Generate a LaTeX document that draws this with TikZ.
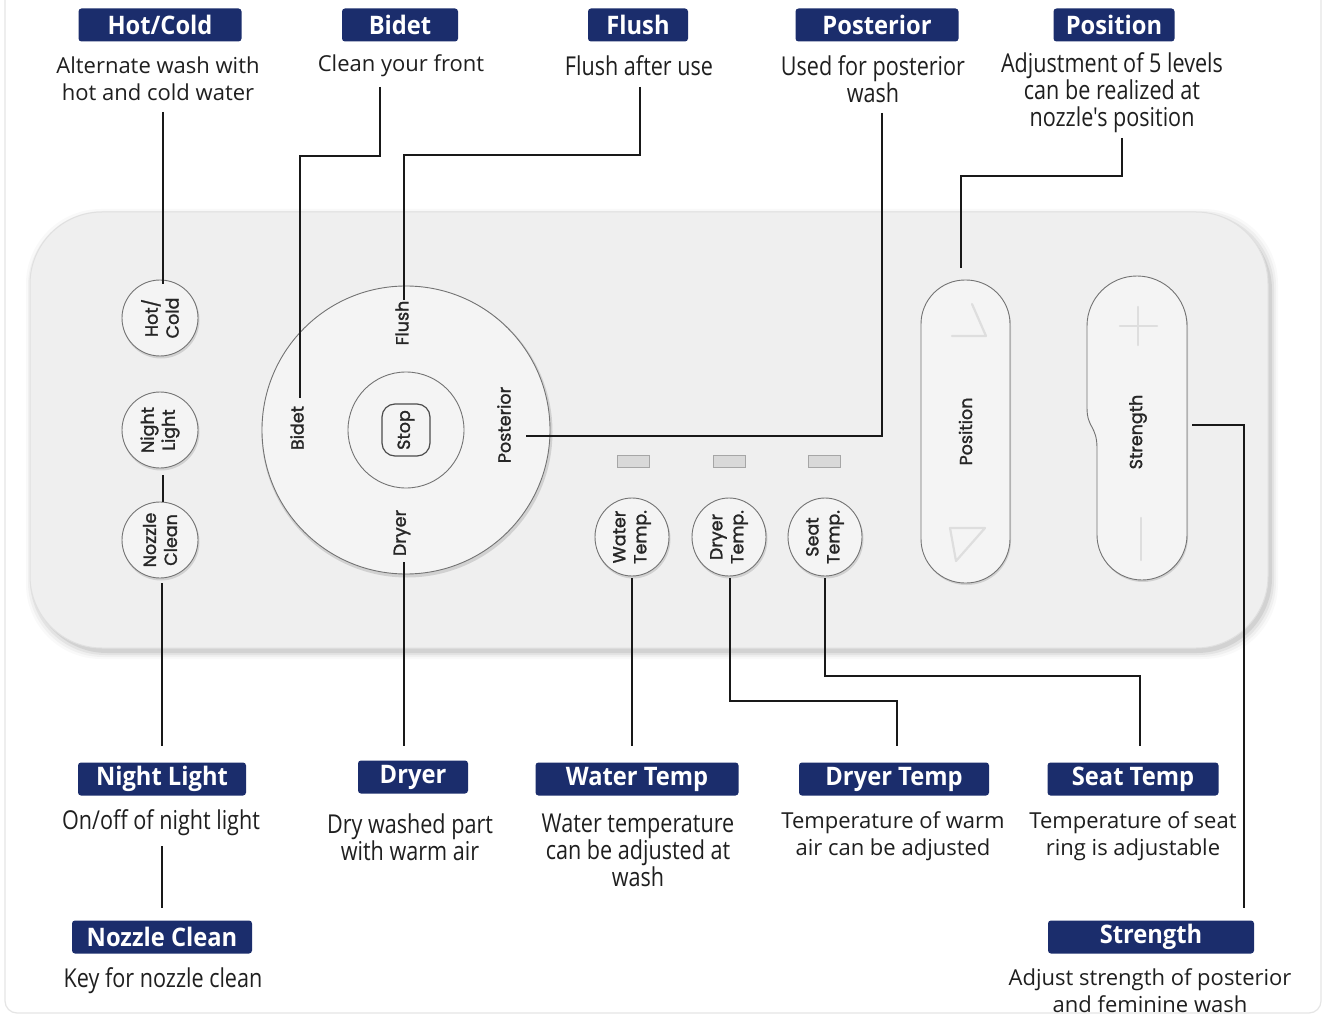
\documentclass[tikz,border=0pt]{standalone}
\usepackage{fontspec}
\setmainfont{Open Sans}
\newfontfamily\condfont[FakeStretch=0.83]{Open Sans}
\newfontfamily\lblfont[FakeStretch=0.93]{Open Sans}
\newfontfamily\remfont[FakeBold=1.5]{Poppins}
\usetikzlibrary{calc,shapes.geometric}
\definecolor{navy}{RGB}{27,45,108}
\definecolor{bodyfill}{RGB}{239,239,239}
\definecolor{btnfill}{RGB}{244,244,244}
\begin{document}
\begin{tikzpicture}[x=1pt,y=-1pt,
  lbl/.style={fill=navy, text=white, rounded corners=3pt, minimum height=33, inner sep=0,
    font=\lblfont\bfseries\fontsize{25.5}{25.5}\selectfont},
  wide/.style={align=center, inner sep=0, text=black!88, font=\fontsize{22}{27}\selectfont},
  cond/.style={align=center, inner sep=0, text=black!88, font=\condfont\fontsize{26}{27}\selectfont},
  rem/.style={inner sep=0, align=center, rotate=90, text=black!85, font=\remfont\fontsize{17.5}{21}\selectfont},
  btn/.style={draw=black!55, line width=0.9, fill=btnfill},
  conn/.style={line width=1.5, black!90},
  faint/.style={black!13, line width=2.2, line cap=round, line join=round}]
\useasboundingbox (0,0) rectangle (1325,1016);
\fill[white] (0,0) rectangle (1325,1016);
\draw[black!10, line width=1.2, rounded corners=12] (5,-20) rectangle (1321,1013);

% ---------- remote body ----------
\foreach \e/\o in {7/0.025,5/0.035,3/0.05,1/0.07}
  \fill[black, opacity=\o, rounded corners=75] (33-\e,216-\e) rectangle (1271+\e,652+\e);
\fill[bodyfill, draw=black!12, line width=1, rounded corners=72] (30,212) rectangle (1268,648);

% small round buttons
\foreach \n/\y in {hcbtn/318, nlbtn/430, ncbtn/540}{
  \fill[black, opacity=0.12] (161,\y+2) circle[radius=38.5];
  \node[btn, circle, minimum size=76, inner sep=0] (\n) at (160,\y) {};
}
\node[rem] at (hcbtn) {Hot/\\Cold};
\node[rem] at (nlbtn) {Night\\Light};
\node[rem] at (ncbtn) {Nozzle\\Clean};

% big ring
\fill[black, opacity=0.12] (407,432) circle[radius=145.5];
\node[btn, circle, minimum size=288, inner sep=0] (ring) at (406,430) {};
\node[btn, circle, minimum size=116, inner sep=0] (inner) at (406,430) {};
\node[draw=black!70, line width=1.2, rounded corners=13, minimum width=48, minimum height=52, inner sep=0] (stopkey) at (406,430) {};
\node[rem] at (stopkey) {Stop};
\node[rem] (fltxt) at (402,323) {Flush};
\node[rem] (bdtxt) at (297,428) {Bidet};
\node[rem] (potxt) at (504,425) {Posterior};
\node[rem] (drtxt) at (402,533) {Dryer};

% LEDs
\foreach \x in {633,729,824}
  \draw[fill=black!15, draw=black!35, line width=0.8] (\x-16,455) rectangle (\x+16,467);

% temp buttons
\foreach \n/\x in {wtbtn/632, dtbtn/729, stbtn/825}{
  \fill[black, opacity=0.12] (\x+1,539) ellipse[x radius=37.5, y radius=39.5];
  \node[btn, ellipse, minimum width=74, minimum height=78, inner sep=0] (\n) at (\x,537) {};
}
\node[rem] at (wtbtn) {Water\\Temp.};
\node[rem] at (dtbtn) {Dryer\\Temp.};
\node[rem] at (stbtn) {Seat\\Temp.};

% position pill
\fill[black, opacity=0.12, rounded corners=44] (922,282) rectangle (1011,585);
\node[btn, rounded corners=44, minimum width=89, minimum height=303, inner sep=0] (posbtn) at (965.5,431.5) {};
\node[rem] at (posbtn) {Position};
\draw[faint] (952,336) -- (986,336) -- (972,304);
\draw[faint] (950,528) -- (985,528) -- (956,561) -- cycle;

% strength pill
\coordinate (sgbtn) at (1138,432);
\fill[black, opacity=0.12] (1088,328) arc[start angle=180, end angle=360, radius=50] -- (1188,537)
   arc[start angle=0, end angle=180, radius=45] -- (1098,450) .. controls (1098,428) and (1088,430) .. (1088,410) -- cycle;
\draw[btn] (1087,326) arc[start angle=180, end angle=360, radius=50] -- (1187,535)
   arc[start angle=0, end angle=180, radius=45] -- (1097,448) .. controls (1097,426) and (1087,428) .. (1087,408) -- cycle;
\node[rem] at (sgbtn) {Strength};
\draw[faint] (1120,326) -- (1157,326) (1138,307) -- (1138,345);
\draw[faint] (1141,518) -- (1141,560);

% ---------- top labels ----------
\node[lbl, minimum width=163] (hcbox) at (160,25) {Hot/Cold};
\node[lbl, minimum width=116] (bdbox) at (400,25) {Bidet};
\node[lbl, minimum width=100] (flbox) at (638,25) {Flush};
\node[lbl, minimum width=163] (pobox) at (877,25) {Posterior};
\node[lbl, minimum width=121] (psbox) at (1114,25) {Position};

\node[wide] (hcdesc) at (158,79) {Alternate wash with\\hot and cold water};
\node[wide] (bddesc) at (401,66) {Clean your front};
\node[cond] (fldesc) at (639,66) {Flush after use};
\node[cond] (podesc) at (873,79) {Used for posterior\\wash};
\node[cond] (psdesc) at (1112,93) {Adjustment of 5 levels\\can be realized at\\nozzle's position};

% ---------- bottom labels ----------
\node[lbl, minimum width=168] (nlbox) at (162,779) {Night Light};
\node[lbl, minimum width=110] (drbox) at (413,777) {Dryer};
\node[lbl, minimum width=203] (wtbox) at (637,779) {Water Temp};
\node[lbl, minimum width=190] (dtbox) at (894,779) {Dryer Temp};
\node[lbl, minimum width=171] (stbox) at (1133,779) {Seat Temp};
\node[lbl, minimum width=180] (ncbox) at (162,937) {Nozzle Clean};
\node[lbl, minimum width=206] (sgbox) at (1151,937) {Strength};

\node[cond] (nldesc) at (161,823) {On/off of night light};
\node[cond] (drdesc) at (410,837) {Dry washed part\\with warm air};
\node[cond] (wtdesc) at (638,850) {Water temperature\\can be adjusted at\\wash};
\node[wide] (dtdesc) at (893,836) {Temperature of warm\\air can be adjusted};
\node[wide] (stdesc) at (1133,836) {Temperature of seat\\ring is adjustable};
\node[cond] (ncdesc) at (163,981) {Key for nozzle clean};
\node[wide] (sgdesc) at (1150,991) {Adjust strength of posterior\\and feminine wash};

% ---------- connector end points ----------
\coordinate (hcA) at (163,112);
\coordinate (hcB) at (163,284);
\coordinate (bdA) at (380,87);
\coordinate (bdB) at (300,398);
\coordinate (flA) at (640,87);
\coordinate (flB) at (404,300);
\coordinate (poA) at (882,113);
\coordinate (poB) at (526,436);
\coordinate (psA) at (1122,138);
\coordinate (psB) at (961,268);
\coordinate (nlA) at (163,475);
\coordinate (nlB) at (163,502);
\coordinate (ncA) at (162,583);
\coordinate (ncB) at (162,746);
\coordinate (ncC) at (162,846);
\coordinate (ncD) at (162,908);
\coordinate (drA) at (404,562);
\coordinate (drB) at (404,746);
\coordinate (wtA) at (632,578);
\coordinate (wtB) at (632,746);
\coordinate (dtA) at (730,578);
\coordinate (dtB) at (897,746);
\coordinate (stA) at (825,578);
\coordinate (stB) at (1140,746);
\coordinate (sgA) at (1192,425);
\coordinate (sgB) at (1244,908);

% ---------- connectors ----------
\draw[conn] (hcA) -- (hcB);
\draw[conn] (bdA) -- ++(0,69) -| (bdB);
\draw[conn] (flA) -- ++(0,68) -| (flB);
\draw[conn] (poA) |- (poB);
\draw[conn] (psA) -- ++(0,38) -| (psB);
\draw[conn] (nlA) -- (nlB);
\draw[conn] (ncA) -- (ncB);
\draw[conn] (ncC) -- (ncD);
\draw[conn] (drA) -- (drB);
\draw[conn] (wtA) -- (wtB);
\draw[conn] (dtA) -- ++(0,123) -| (dtB);
\draw[conn] (stA) -- ++(0,98) -| (stB);
\draw[conn] (sgA) -| (sgB);
\end{tikzpicture}
\end{document}
